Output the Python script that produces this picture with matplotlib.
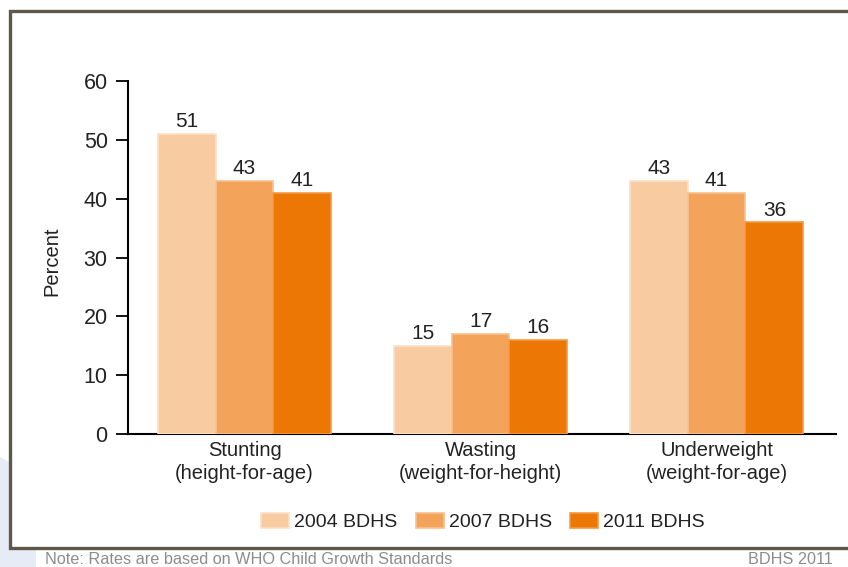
import matplotlib
matplotlib.use("Agg")
import matplotlib.pyplot as plt
from matplotlib.patches import Rectangle, Polygon
import numpy as np

plt.rcParams['font.family'] = ['Liberation Sans', 'DejaVu Sans']

categories = ["Stunting\n(height-for-age)", "Wasting\n(weight-for-height)", "Underweight\n(weight-for-age)"]
series_names = ["2004 BDHS", "2007 BDHS", "2011 BDHS"]
values_2004 = [51, 15, 43]
values_2007 = [43, 17, 41]
values_2011 = [41, 16, 36]
yticks = [0, 10, 20, 30, 40, 50, 60]

colors = ["#f9cba0", "#f3a35a", "#ec7704"]
edges = ["#fde0c6", "#f8c08e", "#f39a40"]
text_color = "#222222"

W, H = 848, 567
fig = plt.figure(figsize=(W / 100, H / 100), dpi=100)

# soft background shape at the lower left, behind the frame
bg = Polygon([(0, 0), (36 / W, 0), (36 / W, 20 / H), (9 / W, 105 / H), (0, 110 / H)],
             closed=True, transform=fig.transFigure, facecolor="#e6ebf5",
             edgecolor="none", zorder=0)
fig.patches.append(bg)

# outer frame
frame = Rectangle((9.5 / W, 1 - 547.5 / H), 1.2, (547.5 - 11) / H, transform=fig.transFigure,
                  facecolor="white", edgecolor="#5f5849", linewidth=2.4, zorder=1)
fig.patches.append(frame)

ax = fig.add_axes([128 / W, 1 - 434 / H, (836 - 128) / W, (434 - 81) / H])
ax.set_zorder(2)
ax.patch.set_alpha(0)

x = np.arange(len(categories))
bw = 0.245
series = [values_2004, values_2007, values_2011]
for i, vals in enumerate(series):
    pos = x + (i - 1) * bw
    bars = ax.bar(pos, vals, width=bw, color=colors[i], edgecolor=edges[i],
                  linewidth=1.2, label=series_names[i], zorder=3)
    for b, v in zip(bars, vals):
        ax.text(b.get_x() + b.get_width() / 2, v + 0.45, f"{v}", ha="center", va="bottom",
                fontsize=15, color=text_color, zorder=4)

ax.set_xlim(-0.494, 2.506)
ax.set_ylim(0, 60)
ax.set_yticks(yticks)
ax.set_xticks(x)
ax.set_xticklabels(categories, fontsize=14.5, color=text_color, linespacing=1.3)
ax.tick_params(axis="x", length=0, pad=5)
ax.tick_params(axis="y", length=8.6, width=1.3, labelsize=15.5, labelcolor=text_color, pad=6)
for s in ["top", "right"]:
    ax.spines[s].set_visible(False)
ax.spines["left"].set_linewidth(1.5)
ax.spines["bottom"].set_linewidth(1.5)
ax.set_ylabel("Percent", fontsize=14.5, color=text_color)
ax.yaxis.set_label_coords((61 - 128) / (836 - 128), 0.49)

handles, labels = ax.get_legend_handles_labels()
leg = fig.legend(handles, labels, loc="center", bbox_to_anchor=(483 / W, 1 - 522 / H), ncol=3,
                 frameon=False, fontsize=14, handlelength=1.45, handleheight=0.82,
                 handletextpad=0.26, columnspacing=0.93, borderpad=0)
for t in leg.get_texts():
    t.set_color(text_color)

fig.text(45 / W, 1 - 560 / H, "Note: Rates are based on WHO Child Growth Standards",
         fontsize=11.7, color="#8c8c8c", va="center", ha="left")
fig.text(833 / W, 1 - 560 / H, "BDHS 2011", fontsize=11.7, color="#8c8c8c",
         va="center", ha="right")

fig.savefig("out.png", dpi=100)
